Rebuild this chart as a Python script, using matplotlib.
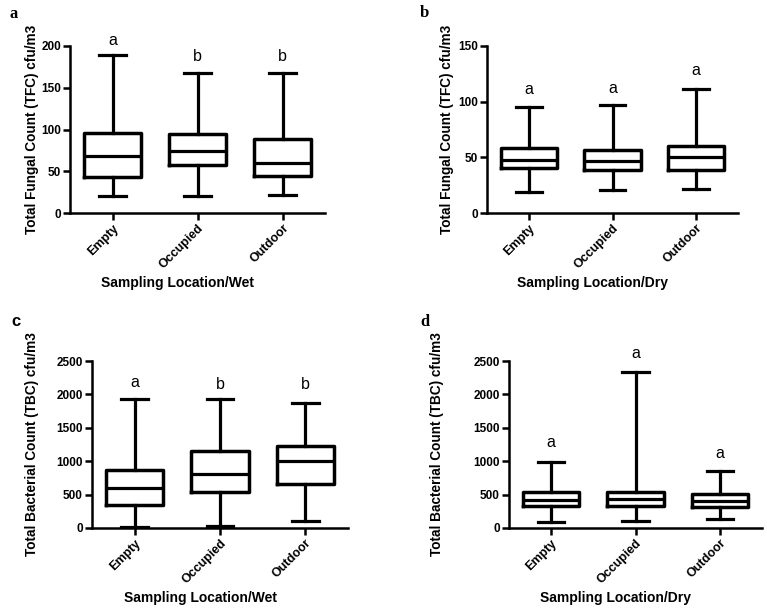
import matplotlib
matplotlib.use("Agg")
import matplotlib.pyplot as plt

plt.rcParams['font.family'] = ['Liberation Sans', 'DejaVu Sans']

categories = ["Empty", "Occupied", "Outdoor"]

# panel a: fungal, wet
a_min = [20, 20, 22]
a_q1 = [43, 58, 44]
a_med = [68, 74, 60]
a_q3 = [96, 95, 89]
a_max = [189, 168, 168]
a_letters = ["a", "b", "b"]
a_letter_y = [198, 178, 178]

# panel b: fungal, dry
b_min = [19, 21, 22]
b_q1 = [40, 39, 39]
b_med = [48, 47, 50]
b_q3 = [58, 57, 60]
b_max = [95, 97, 111]
b_letters = ["a", "a", "a"]
b_letter_y = [104, 105, 121]

# panel c: bacterial, wet
c_min = [15, 30, 110]
c_q1 = [349, 533, 652]
c_med = [593, 812, 996]
c_q3 = [861, 1155, 1225]
c_max = [1937, 1937, 1872]
c_letters = ["a", "b", "b"]
c_letter_y = [2070, 2040, 2040]

# panel d: bacterial, dry
d_min = [90, 105, 134]
d_q1 = [334, 334, 314]
d_med = [423, 433, 408]
d_q3 = [538, 538, 508]
d_max = [991, 2331, 857]
d_letters = ["a", "a", "a"]
d_letter_y = [1170, 2500, 1000]

W, H = 767, 610
fig = plt.figure(figsize=(W / 100, H / 100), dpi=100)


def add_ax(l, t, r, b):
    return fig.add_axes([l / W, 1 - b / H, (r - l) / W, (b - t) / H])


panels = [
    dict(rect=(70, 46, 325, 213), mn=a_min, q1=a_q1, med=a_med, q3=a_q3, mx=a_max,
         letters=a_letters, ly=a_letter_y, ylim=200, yticks=[0, 50, 100, 150, 200],
         ylabel="Total Fungal Count (TFC) cfu/m3", xlabel="Sampling Location/Wet",
         ylabx=32, tag="a", tagpos=(10, 14), tagserif=True),
    dict(rect=(487, 46, 738, 213), mn=b_min, q1=b_q1, med=b_med, q3=b_q3, mx=b_max,
         letters=b_letters, ly=b_letter_y, ylim=150, yticks=[0, 50, 100, 150],
         ylabel="Total Fungal Count (TFC) cfu/m3", xlabel="Sampling Location/Dry",
         ylabx=447, tag="b", tagpos=(420, 13), tagserif=True),
    dict(rect=(92, 361, 348, 528), mn=c_min, q1=c_q1, med=c_med, q3=c_q3, mx=c_max,
         letters=c_letters, ly=c_letter_y, ylim=2500, yticks=[0, 500, 1000, 1500, 2000, 2500],
         ylabel="Total Bacterial Count (TBC) cfu/m3", xlabel="Sampling Location/Wet",
         ylabx=32, tag="c", tagpos=(11, 322), tagserif=False),
    dict(rect=(509, 361, 762, 528), mn=d_min, q1=d_q1, med=d_med, q3=d_q3, mx=d_max,
         letters=d_letters, ly=d_letter_y, ylim=2500, yticks=[0, 500, 1000, 1500, 2000, 2500],
         ylabel="Total Bacterial Count (TBC) cfu/m3", xlabel="Sampling Location/Dry",
         ylabx=437, tag="d", tagpos=(420, 322), tagserif=True),
]

for p in panels:
    ax = add_ax(*p["rect"])
    l, t, r, b = p["rect"]
    aw, ah = r - l, b - t
    stats = []
    for i, c in enumerate(categories):
        stats.append(dict(label=c, whislo=p["mn"][i], q1=p["q1"][i], med=p["med"][i],
                          q3=p["q3"][i], whishi=p["mx"][i], fliers=[]))
    lw = 2.5
    ax.bxp(stats, positions=range(len(categories)), widths=0.67, showfliers=False,
           boxprops=dict(linewidth=lw, color='black'),
           medianprops=dict(linewidth=2.3, color='black'),
           whiskerprops=dict(linewidth=2.3, color='black'),
           capprops=dict(linewidth=2.3, color='black'),
           capwidths=0.31)
    ax.set_xlim(-0.5, len(categories) - 0.5)
    ax.set_ylim(0, p["ylim"])
    ax.set_yticks(p["yticks"])
    ax.set_xticks(range(len(categories)))
    ax.set_xticklabels(categories, rotation=45, ha='right', rotation_mode='anchor',
                       fontsize=9, fontweight='bold')
    for lab in ax.get_yticklabels():
        lab.set_fontweight('bold')
        lab.set_fontsize(8.5)
    for s in ['top', 'right']:
        ax.spines[s].set_visible(False)
    for s in ['left', 'bottom']:
        ax.spines[s].set_linewidth(1.8)
    ax.tick_params(axis='both', width=1.8, length=5, pad=1.5)
    ax.set_ylabel(p["ylabel"], fontsize=9.8, fontweight='bold', va='center')
    ax.set_xlabel(p["xlabel"], fontsize=10, fontweight='bold', va='center')
    ax.yaxis.set_label_coords((p["ylabx"] - l) / aw, 0.5)
    ax.xaxis.set_label_coords(0.5 - 20 / aw, -70 / ah)
    for i, tx in enumerate(p["letters"]):
        ax.text(i, p["ly"][i], tx, ha='center', va='bottom', fontsize=11.5, clip_on=False)
    fam = ['Liberation Serif', 'DejaVu Serif'] if p["tagserif"] else ['Liberation Sans', 'DejaVu Sans']
    fig.text(p["tagpos"][0] / W, 1 - p["tagpos"][1] / H, p["tag"], ha='left', va='center',
             fontsize=12, fontweight='bold', family=fam)

fig.savefig("out.png", dpi=100, facecolor='white')
